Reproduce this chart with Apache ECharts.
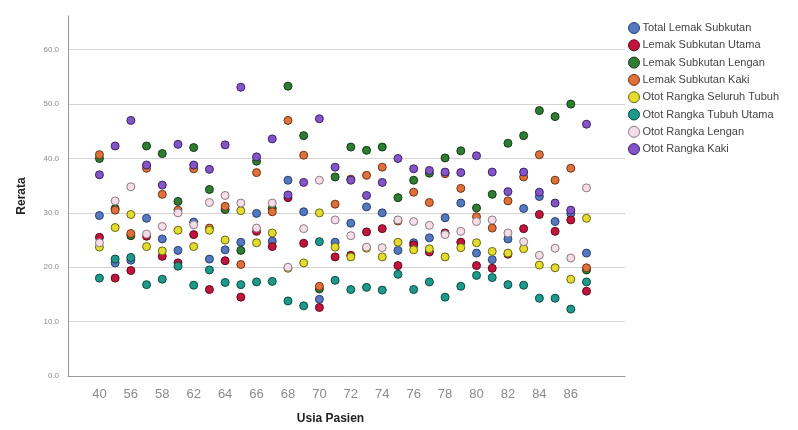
<!DOCTYPE html>
<html>
<head>
<meta charset="utf-8">
<script src="https://cdn.jsdelivr.net/npm/echarts@6/dist/echarts.min.js"></script>
<style>
html,body{margin:0;padding:0;background:#fff;}
#chart{width:798px;height:430px;}
</style>
</head>
<body>
<div id="chart"></div>
<script>
// Categories (patient age); only every other label is shown on the axis
var ages = [40, 53, 56, 57, 58, 60, 62, 63, 64, 65, 66, 67, 68, 69, 70, 71, 72, 73, 74, 75, 76, 77, 78, 79, 80, 81, 82, 83, 84, 85, 86, 88];
var yTicks = [0, 10, 20, 30, 40, 50, 60];

var seriesNames = [
  "Total Lemak Subkutan",
  "Lemak Subkutan Utama",
  "Lemak Subkutan Lengan",
  "Lemak Subkutan Kaki",
  "Otot Rangka Seluruh Tubuh",
  "Otot Rangka Tubuh Utama",
  "Otot Rangka Lengan",
  "Otot Rangka Kaki"
];

var totalLemakSubkutan = [29.5, 20.8, 21.3, 29.0, 25.2, 23.1, 28.3, 21.5, 23.2, 24.6, 29.9, 24.8, 36.0, 30.2, 14.1, 24.6, 28.1, 31.1, 30.0, 23.1, 24.5, 25.4, 29.1, 31.8, 22.6, 21.4, 25.2, 30.8, 33.0, 28.4, 29.9, 22.6];
var lemakSubkutanUtama = [25.5, 18.0, 19.4, 25.7, 22.0, 20.8, 26.0, 15.9, 21.2, 14.5, 26.6, 23.8, 32.8, 24.4, 12.6, 21.9, 22.2, 26.5, 27.1, 20.3, 24.1, 22.8, 26.3, 24.6, 20.3, 19.8, 22.4, 27.1, 29.7, 26.6, 28.7, 15.6];
var lemakSubkutanLengan = [40.0, 30.8, 25.8, 42.3, 40.9, 32.1, 42.0, 34.3, 30.6, 23.1, 39.5, 30.8, 53.3, 44.2, 16.0, 36.6, 42.1, 41.5, 42.1, 32.8, 36.0, 37.3, 40.1, 41.4, 30.9, 33.4, 42.8, 44.2, 48.8, 47.7, 50.0, 19.5];
var lemakSubkutanKaki = [40.7, 30.5, 26.2, 38.2, 33.4, 30.5, 38.1, 27.2, 31.2, 20.5, 37.4, 30.2, 47.0, 40.6, 16.5, 31.6, 36.2, 36.9, 38.4, 28.5, 33.8, 31.9, 37.2, 34.5, 29.3, 27.2, 32.2, 36.6, 40.7, 36.0, 38.2, 19.9];
var ototSeluruhTubuh = [23.7, 27.3, 29.7, 23.8, 23.0, 26.8, 23.8, 26.8, 25.0, 30.4, 24.5, 26.3, 19.8, 20.8, 30.0, 23.7, 21.9, 23.5, 21.9, 24.6, 23.2, 23.4, 21.9, 23.6, 24.5, 22.9, 22.6, 23.4, 20.4, 19.9, 17.8, 29.0];
var ototTubuhUtama = [18.0, 21.5, 21.8, 16.8, 17.8, 20.2, 16.7, 19.5, 17.2, 16.8, 17.3, 17.4, 13.8, 12.9, 24.7, 17.6, 15.9, 16.3, 15.8, 18.7, 15.9, 17.3, 14.5, 16.5, 18.5, 18.1, 16.8, 16.7, 14.3, 14.3, 12.3, 17.3];
var ototLengan = [24.5, 32.2, 34.8, 26.1, 27.5, 30.0, 27.8, 31.9, 33.2, 31.8, 27.2, 31.8, 20.0, 27.1, 36.0, 28.7, 25.8, 23.7, 23.6, 28.7, 28.4, 27.7, 26.0, 26.6, 28.4, 28.7, 26.3, 24.7, 22.2, 23.5, 21.7, 34.6];
var ototKaki = [37.0, 42.3, 47.0, 38.8, 35.1, 42.6, 38.8, 38.0, 42.5, 53.1, 40.3, 43.6, 33.3, 35.6, 47.3, 38.4, 36.0, 33.2, 35.6, 40.0, 38.1, 37.8, 37.5, 37.4, 40.5, 37.5, 33.9, 37.5, 33.8, 31.8, 30.5, 46.3];

var seriesValues = [totalLemakSubkutan, lemakSubkutanUtama, lemakSubkutanLengan, lemakSubkutanKaki, ototSeluruhTubuh, ototTubuhUtama, ototLengan, ototKaki];
var colors = ["#5579c0", "#c2143c", "#2e7d32", "#e0703a", "#e3dc2e", "#1e9a8a", "#f5dde8", "#8455c8"];
var borders = ["#2a3f70", "#5a0a1c", "#143a17", "#6e3418", "#6b6614", "#0c4a42", "#8a7a82", "#3c2463"];

var chart = echarts.init(document.getElementById('chart'), null, {renderer: 'canvas'});

var series = seriesNames.map(function (name, s) {
  return {
    name: name,
    type: 'scatter',
    symbol: 'circle',
    symbolSize: 8,
    itemStyle: {color: colors[s], borderColor: borders[s], borderWidth: 1, opacity: 1},
    data: seriesValues[s].map(function (v, i) { return [i, v]; })
  };
});

chart.setOption({
  animation: false,
  backgroundColor: '#ffffff',
  grid: {left: 68, top: 16, width: 557, bottom: 51, containLabel: false},
  legend: {
    orient: 'vertical',
    left: 623,
    top: 17,
    icon: 'circle',
    itemWidth: 11,
    itemHeight: 11,
    itemGap: 5.3,
    selectedMode: false,
    data: seriesNames.map(function (n, s) {
      return {name: n, itemStyle: {color: colors[s], borderColor: borders[s], borderWidth: 1}};
    }),
    textStyle: {fontFamily: 'Liberation Sans, Arial, sans-serif', fontSize: 11, color: '#444', padding: [0, 0, 0, -2]}
  },
  xAxis: {
    type: 'value',
    min: -2,
    max: 33.45,
    interval: 2,
    name: 'Usia Pasien',
    nameLocation: 'middle',
    nameGap: 37,
    nameTextStyle: {fontFamily: 'Liberation Sans, Arial, sans-serif', fontSize: 12, fontWeight: 'bold', color: '#222', padding: [0, 32, 0, 0]},
    axisLine: {show: true, onZero: false, lineStyle: {color: '#999', width: 1}},
    axisTick: {show: false},
    splitLine: {show: false},
    axisLabel: {
      showMaxLabel: false,
      showMinLabel: false,
      margin: 12,
      fontFamily: 'Liberation Sans, Arial, sans-serif',
      fontSize: 13,
      color: '#8a8a8a',
      formatter: function (v) {
        var i = Math.round(v);
        return (i >= 0 && i < ages.length && i % 2 === 0) ? String(ages[i]) : '';
      }
    }
  },
  yAxis: {
    type: 'value',
    min: 0,
    max: 66.2,
    interval: 10,
    name: 'Rerata',
    nameLocation: 'middle',
    nameGap: 40,
    nameRotate: 90,
    nameTextStyle: {fontFamily: 'Liberation Sans, Arial, sans-serif', fontSize: 12, fontWeight: 'bold', color: '#222'},
    axisLine: {show: true, onZero: false, lineStyle: {color: '#999', width: 1}},
    axisTick: {show: false},
    splitLine: {show: true, showMaxLine: false, showMinLine: false, lineStyle: {color: '#d4d4d4', width: 1}},
    axisLabel: {
      showMaxLabel: false,
      margin: 9,
      fontFamily: 'Liberation Sans, Arial, sans-serif',
      fontSize: 8,
      color: '#8a8a8a',
      formatter: function (v) { return yTicks.indexOf(v) >= 0 ? v.toFixed(1) : ''; }
    }
  },
  series: series
});
</script>
</body>
</html>
